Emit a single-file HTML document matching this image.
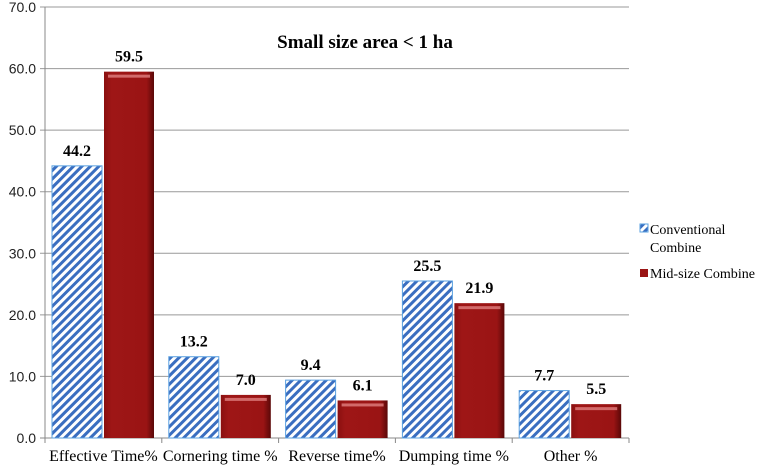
<!DOCTYPE html>
<html><head><meta charset="utf-8"><style>
body{margin:0;background:#fff;width:757px;height:468px;overflow:hidden}
svg{display:block}
.serif{font-family:"Liberation Serif","DejaVu Serif",serif}
.sans{font-family:"Liberation Sans","DejaVu Sans",sans-serif}
</style></head><body>
<svg id="chart" width="757" height="468">
<defs>
<pattern id="hatch" patternUnits="userSpaceOnUse" width="6" height="6" patternTransform="rotate(45)">
<rect width="6" height="6" fill="#fff"/><rect width="3" height="6" fill="#3a6ec0"/>
</pattern>
<linearGradient id="redg" x1="0" x2="1" y1="0" y2="0">
<stop offset="0" stop-color="#8a1010"/><stop offset="0.15" stop-color="#9e1616"/><stop offset="0.85" stop-color="#9a1414"/><stop offset="1" stop-color="#5a0808"/>
</linearGradient>
</defs>
<g id="grid"></g><g id="bars"></g>
<text class="serif" x="365" y="48" text-anchor="middle" font-weight="bold" font-size="19">Small size area &lt; 1 ha</text>
<g>
<rect x="640" y="224" width="8" height="8" fill="url(#hatch)" stroke="#5aa0e0"/>
<text class="serif" x="650" y="234" font-size="14">Conventional</text>
<text class="serif" x="650" y="252" font-size="14">Combine</text>
<rect x="640" y="269" width="8" height="8" fill="#9a1414"/>
<text class="serif" x="650" y="278" font-size="14" textLength="105" lengthAdjust="spacingAndGlyphs">Mid-size Combine</text>
</g>
</svg>
<script>
const categories=["Effective Time%","Cornering time %","Reverse time%","Dumping time %","Other %"];
const conventional=[44.2,13.2,9.4,25.5,7.7];
const midsize=[59.5,7.0,6.1,21.9,5.5];
const yTicks=[0,10,20,30,40,50,60,70];
const NS="http://www.w3.org/2000/svg";
const X0=45,X1=629,Y0=438,Y1=7,YMAX=70;
const cw=(X1-X0)/categories.length;
const y=v=>Y0-(v/YMAX)*(Y0-Y1);
function el(t,a,p){const e=document.createElementNS(NS,t);for(const k in a)e.setAttribute(k,a[k]);p.appendChild(e);return e;}
const grid=document.getElementById('grid'),bars=document.getElementById('bars');
yTicks.forEach(t=>{
 const l=el('line',{x1:X0-5,x2:X1,y1:y(t),y2:y(t),stroke:t===0?'#888':'#999','stroke-width':1},grid);
 
 
 const tx=el('text',{x:X0-9,y:y(t)+5,'text-anchor':'end','class':'sans','font-size':14,fill:'#222'},grid);
 tx.textContent=t.toFixed(1);
 
 
});
const ax=el('line',{x1:X0,x2:X0,y1:Y1,y2:Y0+5,stroke:'#888'},grid);


categories.forEach((c,i)=>{
 const cx=X0+i*cw;
 const tk=el('line',{x1:cx+cw,x2:cx+cw,y1:Y0,y2:Y0+5,stroke:'#888'},grid);
 
 
 const lb=el('text',{x:cx+cw/2,y:Y0+23,'text-anchor':'middle','class':'serif','font-size':16},grid);
 lb.textContent=c;
 
 
 const bw=50,bx=cx+7,rx=cx+59;
 const b=el('rect',{x:bx,y:y(conventional[i]),width:bw,height:Y0-y(conventional[i]),fill:'url(#hatch)',stroke:'#5aa0e0','stroke-width':1},bars);
 
 
 const r=el('rect',{x:rx,y:y(midsize[i]),width:bw,height:Y0-y(midsize[i]),fill:'url(#redg)'},bars);
 
 
 const hl=el('rect',{x:rx+4,y:y(midsize[i])+3,width:bw-8,height:3,fill:'#e08080',opacity:0.8},bars);
 
 
 const v1=el('text',{x:bx+bw/2,y:y(conventional[i])-10,'text-anchor':'middle','class':'serif','font-weight':'bold','font-size':16},bars);
 v1.textContent=conventional[i].toFixed(1);
 
 
 const v2=el('text',{x:rx+bw/2,y:y(midsize[i])-10,'text-anchor':'middle','class':'serif','font-weight':'bold','font-size':16},bars);
 v2.textContent=midsize[i].toFixed(1);
 
 
});
</script>
</body></html>
